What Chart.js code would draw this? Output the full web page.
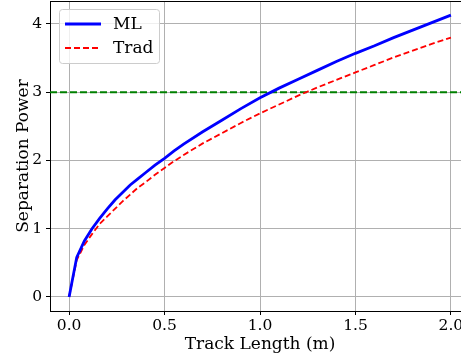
<!DOCTYPE html>
<html>
<head>
<meta charset="utf-8">
<title>Separation Power vs Track Length</title>
<script src="https://cdn.jsdelivr.net/npm/chart.js@4"></script>
<style>
  html, body { margin: 0; padding: 0; background: #fff; overflow: hidden; }
  #frame { width: 461px; height: 361px; overflow: hidden; }
  #box { width: 470px; height: 361px; position: relative; }
</style>
</head>
<body>
<div id="frame"><div id="box"><canvas id="chart"></canvas></div></div>
<script>
// ─── Data ────────────────────────────────────────────────
const trackLength = [0, 0.04, 0.08, 0.12, 0.16, 0.2, 0.24, 0.28, 0.32, 0.36, 0.4, 0.45, 0.5, 0.55, 0.6,
                     0.7, 0.8, 0.9, 1.0, 1.1, 1.2, 1.3, 1.4, 1.5, 1.6, 1.7, 1.8, 1.9, 2.0];
const mlPower     = [0, 0.58, 0.82, 1.00, 1.15, 1.29, 1.42, 1.53, 1.64, 1.73, 1.82, 1.93, 2.03, 2.14, 2.24,
                     2.42, 2.59, 2.76, 2.92, 3.06, 3.19, 3.32, 3.45, 3.57, 3.68, 3.80, 3.91, 4.02, 4.13];
const tradPower   = [0, 0.54, 0.76, 0.92, 1.07, 1.18, 1.29, 1.40, 1.50, 1.60, 1.68, 1.79, 1.89, 1.99, 2.08,
                     2.25, 2.40, 2.55, 2.69, 2.82, 2.95, 3.07, 3.18, 3.29, 3.40, 3.51, 3.61, 3.71, 3.80];
const threshold   = 3;
const xTicks = [0, 0.5, 1.0, 1.5, 2.0];
const yTicks = [0, 1, 2, 3, 4];

const FONT  = { family: '"DejaVu Serif", serif', size: 15.5 };
const TFONT = { family: '"DejaVu Serif", serif', size: 17 };
const GRID = '#b0b0b0';

// ─── Plugins ─────────────────────────────────────────────
// horizontal dashed target line
const thresholdLine = {
  id: 'thresholdLine',
  beforeDatasetsDraw(chart) {
    const { ctx, chartArea: a, scales } = chart;
    const y = scales.y.getPixelForValue(threshold);
    ctx.save();
    ctx.strokeStyle = '#008000';
    ctx.lineWidth = 2;
    ctx.setLineDash([7, 3]);
    ctx.beginPath();
    ctx.moveTo(a.left, y);
    ctx.lineTo(a.right, y);
    ctx.stroke();
    ctx.restore();
  }
};

// top spine + boxed legend in the upper-left corner
const frameAndLegend = {
  id: 'frameAndLegend',
  afterDraw(chart) {
    const { ctx, chartArea: a } = chart;
    ctx.save();
    ctx.strokeStyle = '#000';
    ctx.lineWidth = 1;
    ctx.beginPath();
    ctx.moveTo(a.left, a.top + 0.5);
    ctx.lineTo(a.right, a.top + 0.5);
    ctx.stroke();

    const x0 = a.left + 9, y0 = a.top + 8, w = 100, h = 54, r = 3;
    ctx.fillStyle = 'rgba(255,255,255,0.8)';
    ctx.strokeStyle = '#cccccc';
    ctx.beginPath();
    ctx.roundRect(x0 + 0.5, y0 + 0.5, w, h, r);
    ctx.fill();
    ctx.stroke();

    ctx.font = `${TFONT.size}px ${TFONT.family}`;
    ctx.textBaseline = 'middle';
    ctx.fillStyle = '#000';
    chart.data.datasets.forEach((ds, i) => {
      const ly = y0 + 15 + i * 24;
      ctx.strokeStyle = ds.borderColor;
      ctx.lineWidth = ds.borderWidth;
      ctx.setLineDash(ds.borderDash || []);
      ctx.beginPath();
      ctx.moveTo(x0 + 6, ly);
      ctx.lineTo(x0 + 42, ly);
      ctx.stroke();
      ctx.setLineDash([]);
      ctx.fillText(ds.label, x0 + 54, ly + 1);
    });
    ctx.restore();
  }
};

// ─── Chart ───────────────────────────────────────────────
const toPoints = ys => trackLength.map((x, i) => ({ x, y: ys[i] }));

new Chart(document.getElementById('chart'), {
  type: 'line',
  data: {
    datasets: [
      { label: 'ML',   data: toPoints(mlPower),   borderColor: '#0000ff', borderWidth: 2.8,
        pointRadius: 0, tension: 0, fill: false },
      { label: 'Trad', data: toPoints(tradPower), borderColor: '#ff0000', borderWidth: 1.8,
        borderDash: [6, 3], pointRadius: 0, tension: 0, fill: false }
    ]
  },
  options: {
    responsive: true, maintainAspectRatio: false, animation: false,
    layout: { padding: { top: 1, right: 0, left: 0, bottom: 0 } },
    plugins: { legend: { display: false }, tooltip: { enabled: false } },
    scales: {
      x: {
        type: 'linear', min: -0.1, max: 2.1,
        afterBuildTicks: s => { s.ticks = xTicks.map(v => ({ value: v })); },
        afterFit: s => { s.height = 50; s.paddingLeft = 0; s.paddingRight = 0; },
        grid: { color: GRID, tickColor: '#000', tickLength: 4, lineWidth: 1 },
        border: { color: '#000', width: 1 },
        ticks: { font: FONT, color: '#000', padding: 2, maxRotation: 0, autoSkip: false,
                 callback: v => Number(v).toFixed(1) },
        title: { display: true, text: 'Track Length (m)', font: TFONT, color: '#000',
                 padding: { top: 0, bottom: 6 } }
      },
      y: {
        type: 'linear', min: -0.2065, max: 4.337,
        afterBuildTicks: s => { s.ticks = yTicks.map(v => ({ value: v })); },
        afterFit: s => { s.width = 50; s.paddingTop = 0; s.paddingBottom = 0; },
        grid: { color: GRID, tickColor: '#000', tickLength: 4, lineWidth: 1 },
        border: { color: '#000', width: 1 },
        ticks: { font: FONT, color: '#000', padding: 4, callback: v => String(v) },
        title: { display: true, text: 'Separation Power', font: TFONT, color: '#000',
                 padding: { top: 13, bottom: 0 } }
      }
    }
  },
  plugins: [thresholdLine, frameAndLegend]
});
</script>
</body>
</html>
